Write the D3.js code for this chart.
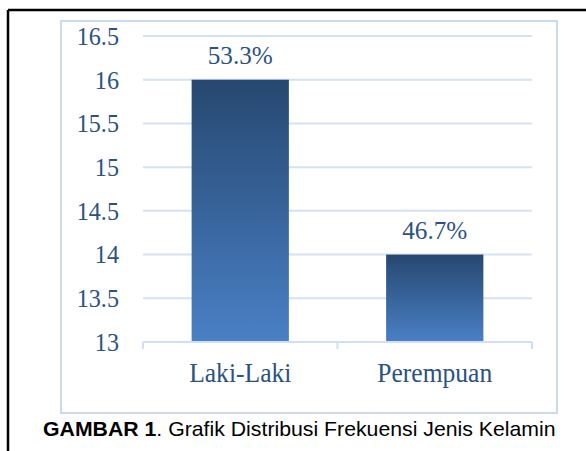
<!DOCTYPE html>
<html>
<head>
<meta charset="utf-8">
<script src="https://cdn.jsdelivr.net/npm/d3@7"></script>
<style>
  html, body { margin: 0; padding: 0; background: #fff; }
  svg { display: block; }
</style>
</head>
<body>
<svg id="chart" width="586" height="451"></svg>
<script>
// data
const categories = ["Laki-Laki", "Perempuan"];
const values = [16, 14];
const pctLabels = ["53.3%", "46.7%"];
const yTicks = [13, 13.5, 14, 14.5, 15, 15.5, 16, 16.5];

const svg = d3.select("#chart");
const SERIF = "Liberation Serif, Times New Roman, serif";
const TXT = "#2b5282";

// page border (only top + left visible in the scan)
svg.append("line").attr("x1", 8).attr("x2", 586).attr("y1", 10).attr("y2", 10)
    .attr("stroke", "#000").attr("stroke-width", 2.5);
svg.append("line").attr("x1", 8).attr("x2", 8).attr("y1", 10).attr("y2", 451)
    .attr("stroke", "#000").attr("stroke-width", 2.5);

// chart area frame
svg.append("rect")
    .attr("x", 61).attr("y", 21).attr("width", 496).attr("height", 392)
    .attr("fill", "#fff").attr("stroke", "#c9daf0").attr("stroke-width", 2);

const y = d3.scaleLinear().domain([13, 16.5]).range([342, 36]);
const x = d3.scaleBand().domain(categories).range([143, 532]).paddingInner(0.5).paddingOuter(0.25);

const grad = svg.append("defs").append("linearGradient")
    .attr("id", "barGrad").attr("x1", 0).attr("x2", 0).attr("y1", 0).attr("y2", 1);
grad.append("stop").attr("offset", "0%").attr("stop-color", "#264870");
grad.append("stop").attr("offset", "100%").attr("stop-color", "#4a80c6");

// gridlines
svg.append("g").selectAll("line")
    .data(yTicks.filter(d => d > 13))
    .join("line")
    .attr("x1", 143).attr("x2", 532)
    .attr("y1", d => y(d)).attr("y2", d => y(d))
    .attr("stroke", "#d4e2f3").attr("stroke-width", 2);

// y tick labels
svg.append("g").selectAll("text")
    .data(yTicks)
    .join("text")
    .attr("transform", d => `translate(119,${y(d)}) scale(0.93,1)`)
    .attr("dy", "0.34em")
    .attr("text-anchor", "end")
    .attr("font-family", SERIF)
    .attr("font-size", 26)
    .attr("fill", TXT)
    .text(d => d);

// bars
svg.append("g").selectAll("rect")
    .data(values)
    .join("rect")
    .attr("x", (d, i) => x(categories[i]))
    .attr("width", x.bandwidth())
    .attr("y", d => y(d))
    .attr("height", d => y(13) - y(d))
    .attr("fill", "url(#barGrad)");

// x axis
const xAxis = svg.append("g").attr("stroke", "#d0dff2").attr("stroke-width", 2);
xAxis.append("line").attr("x1", 143).attr("x2", 532).attr("y1", 342).attr("y2", 342);
xAxis.selectAll(".tick")
    .data([143, 337.5, 532])
    .join("line")
    .attr("x1", d => d).attr("x2", d => d).attr("y1", 342).attr("y2", 349);

// category labels
svg.append("g").selectAll("text")
    .data(categories)
    .join("text")
    .attr("transform", d => `translate(${x(d) + x.bandwidth() / 2},382) scale(0.93,1)`)
    .attr("text-anchor", "middle")
    .attr("font-family", SERIF)
    .attr("font-size", 27.5)
    .attr("fill", TXT)
    .text(d => d);

// value labels
svg.append("g").selectAll("text")
    .data(values)
    .join("text")
    .attr("transform", (d, i) => `translate(${x(categories[i]) + x.bandwidth() / 2},${y(d) - 16}) scale(0.97,1)`)
    .attr("text-anchor", "middle")
    .attr("font-family", SERIF)
    .attr("font-size", 26)
    .attr("fill", TXT)
    .text((d, i) => pctLabels[i]);

// caption
const cap = svg.append("text")
    .attr("transform", "translate(43,435.5) scale(1.064,1)")
    .attr("font-family", "Liberation Sans, Arial, sans-serif")
    .attr("font-size", 20)
    .attr("fill", "#000");
cap.append("tspan").attr("font-weight", "bold").text("GAMBAR 1");
cap.append("tspan").text(". Grafik Distribusi Frekuensi Jenis Kelamin");
</script>
</body>
</html>
